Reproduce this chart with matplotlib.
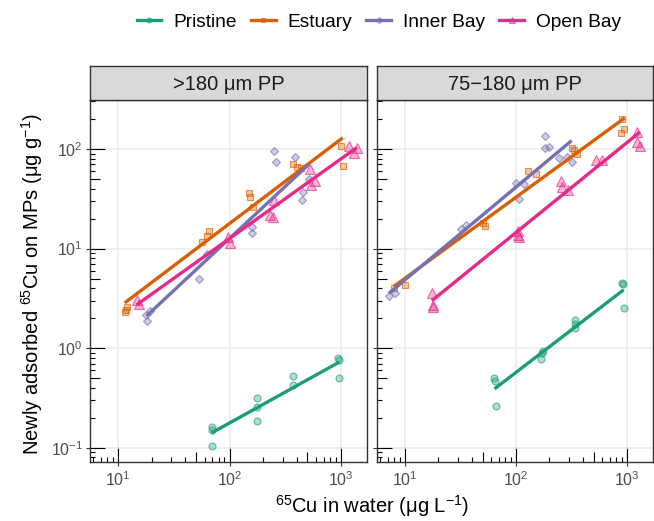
import numpy as np
import matplotlib
matplotlib.use("Agg")
import matplotlib.pyplot as plt
from matplotlib.lines import Line2D
from matplotlib.ticker import LogLocator, LogFormatterSciNotation, NullFormatter

plt.rcParams["font.family"] = ["Liberation Sans", "DejaVu Sans"]
plt.rcParams["mathtext.fontset"] = "custom"
plt.rcParams["mathtext.rm"] = "Liberation Sans"
plt.rcParams["mathtext.it"] = "Liberation Sans:italic"
plt.rcParams["mathtext.bf"] = "Liberation Sans:bold"

groups = ["Pristine", "Estuary", "Inner Bay", "Open Bay"]
colors = ["#1B9E77", "#D95F02", "#7570B3", "#E7298A"]
markers = ["o", "s", "D", "^"]
msizes = [5.0, 4.6, 4.4, 6.6]
panels = [">180 μm PP", "75−180 μm PP"]

# >180 um PP panel (x = Cu in water, y = adsorbed Cu)
big_pristine_x = [70, 70, 69, 175, 175, 175, 368, 368, 933, 967, 967]
big_pristine_y = [0.162, 0.15, 0.105, 0.316, 0.254, 0.186, 0.53, 0.43, 0.79, 0.76, 0.50]
big_estuary_x = [11.5, 12.1, 11.8, 56.8, 63, 66, 151, 153, 164, 368, 403, 434, 1000, 1035]
big_estuary_y = [2.28, 2.57, 2.41, 11.7, 13.4, 15.0, 35.8, 32.7, 26.3, 70.7, 66.4, 64.5, 108, 67.6]
big_inner_x = [18.3, 18.0, 19.5, 53, 63, 158, 160, 250, 262, 386, 513, 459, 450]
big_inner_y = [1.87, 2.15, 2.37, 4.93, 8.8, 14.4, 16.6, 95.5, 74.6, 83.8, 49.9, 37.2, 31.0]
big_open_x = [14.7, 15.5, 97.7, 101, 231, 243, 252, 531, 542, 586, 1189, 1387, 1310]
big_open_y = [3.03, 2.77, 13.2, 11.3, 21.7, 20.6, 30.7, 63, 43.5, 47.7, 108, 103, 91.8]

# 75-180 um PP panel
small_pristine_x = [64, 65, 66, 167, 172, 174, 339, 342, 340, 902, 910, 933]
small_pristine_y = [0.50, 0.466, 0.261, 0.77, 0.90, 0.94, 1.60, 1.91, 1.74, 4.54, 4.40, 2.52]
small_estuary_x = [7.94, 10.1, 50, 53, 128, 150, 320, 333, 355, 902, 946, 889]
small_estuary_y = [3.98, 4.26, 18.2, 16.8, 60.5, 56, 103, 97.7, 90, 200, 160, 145]
small_inner_x = [7.17, 8.1, 31.9, 35.5, 100.7, 106, 117, 182, 182, 199, 245, 286, 317]
small_inner_y = [3.33, 3.54, 15.6, 17.2, 45.2, 31.4, 44.5, 136, 101.6, 105.5, 80.5, 83.8, 74]
small_open_x = [17.5, 17.8, 18.0, 104, 105, 106, 252, 259, 291, 525, 600, 1231, 1216, 1303]
small_open_y = [3.6, 2.7, 2.57, 15.0, 13.7, 13.2, 47.3, 41.8, 38.7, 77, 77, 147, 118.5, 108]

panel_x = [[big_pristine_x, big_estuary_x, big_inner_x, big_open_x],
           [small_pristine_x, small_estuary_x, small_inner_x, small_open_x]]
panel_y = [[big_pristine_y, big_estuary_y, big_inner_y, big_open_y],
           [small_pristine_y, small_estuary_y, small_inner_y, small_open_y]]

W, H = 654, 521
fig = plt.figure(figsize=(W / 100, H / 100), dpi=100)

px = 100 / 72  # pixels per point
ax_boxes = [[90 / W, 59 / H, 277 / W, 362 / H], [377 / W, 59 / H, 276 / W, 362 / H]]
xlim = (10 ** 0.749, 10 ** 3.233)
ylim = (10 ** -1.144, 10 ** 2.492)

for p in range(2):
    ax = fig.add_axes(ax_boxes[p])
    ax.set_xscale("log")
    ax.set_yscale("log")
    ax.set_xlim(xlim)
    ax.set_ylim(ylim)
    ax.grid(which="major", color="#EBEBEB", lw=1.1, zorder=0)
    ax.set_axisbelow(True)
    for s in ax.spines.values():
        s.set_color("#333333")
        s.set_linewidth(1.0)

    for g in range(4):
        xs = np.array(panel_x[p][g], dtype=float)
        ys = np.array(panel_y[p][g], dtype=float)
        c = colors[g]
        ax.plot(xs, ys, ls="none", marker=markers[g], ms=msizes[g],
                mfc=matplotlib.colors.to_rgba(c, 0.35),
                mec=matplotlib.colors.to_rgba(c, 0.65), mew=0.8, zorder=3)
    for g in range(4):
        xs = np.log10(panel_x[p][g])
        ys = np.log10(panel_y[p][g])
        k, b = np.polyfit(xs, ys, 1)
        xx = np.array([xs.min(), xs.max()])
        ax.plot(10 ** xx, 10 ** (k * xx + b), color=colors[g], lw=2.4,
                solid_capstyle="butt", zorder=4)

    # log ticks: long at decades, mid at 5s, short at the rest (inside)
    for axis in (ax.xaxis, ax.yaxis):
        axis.set_major_locator(LogLocator(base=10, numticks=12))
        axis.set_minor_locator(LogLocator(base=10, subs=[2, 3, 4, 6, 7, 8, 9], numticks=12))
        axis.set_minor_formatter(NullFormatter())
        axis.set_major_formatter(LogFormatterSciNotation())
    ax.tick_params(which="major", direction="in", length=15 / px, width=0.8,
                   color="black", labelsize=11.5, labelcolor="#4D4D4D", pad=7 / px)
    ax.tick_params(which="minor", direction="in", length=5 / px, width=0.8, color="black")
    ax.tick_params(axis="x", which="major", pad=8 / px)

    for loc in ("bottom", "left"):
        if loc == "bottom":
            mid = ax.secondary_xaxis("bottom")
            out = ax.secondary_xaxis("bottom")
            mid_axis, out_axis = mid.xaxis, out.xaxis
        else:
            mid = ax.secondary_yaxis("left")
            out = ax.secondary_yaxis("left")
            mid_axis, out_axis = mid.yaxis, out.yaxis
        for sa in (mid, out):
            for s in sa.spines.values():
                s.set_visible(False)
        for sub, a in (([5], mid_axis), ([1], out_axis)):
            a.set_major_locator(LogLocator(base=10, subs=sub, numticks=12))
            a.set_minor_locator(LogLocator(base=10, subs=[], numticks=12))
            a.set_major_formatter(NullFormatter())
            a.set_minor_formatter(NullFormatter())
        mid.tick_params(which="major", direction="in", length=10 / px, width=0.8,
                        color="black")
        out.tick_params(which="major", direction="out", length=4 / px, width=0.8,
                        color="#333333")

    if p == 1:
        ax.tick_params(axis="y", labelleft=False)

    # facet strip
    x0, y0, w, h = ax_boxes[p]
    sax = fig.add_axes([x0, (H - 100) / H, w, 34 / H])
    sax.set_facecolor("#D9D9D9")
    sax.set_xticks([])
    sax.set_yticks([])
    for s in sax.spines.values():
        s.set_color("#333333")
        s.set_linewidth(1.0)
    sax.text(0.5, 0.47, panels[p], ha="center", va="center", fontsize=14.5,
             color="#1A1A1A", transform=sax.transAxes)

fig.text(32 / W, 1 - 284 / H, r"Newly adsorbed $^{65}$Cu on MPs (μg g$^{-1}$)",
         rotation=90, ha="center", va="center", fontsize=14.5)
fig.text(372 / W, 1 - 506 / H, r"$^{65}$Cu in water (μg L$^{-1}$)",
         ha="center", va="center", fontsize=14.5)

handles = [Line2D([], [], color=colors[g], lw=2.4, marker=markers[g], ms=msizes[g] * 0.7,
                  mfc=matplotlib.colors.to_rgba(colors[g], 0.35),
                  mec=matplotlib.colors.to_rgba(colors[g], 0.65), mew=0.8)
           for g in range(4)]
fig.legend(handles, groups, ncol=4, loc="center", bbox_to_anchor=(0.579, 1 - 22 / H),
           frameon=False, fontsize=13.8, handlelength=1.3, handletextpad=0.6,
           columnspacing=0.75)

fig.savefig("out.png", dpi=100)
